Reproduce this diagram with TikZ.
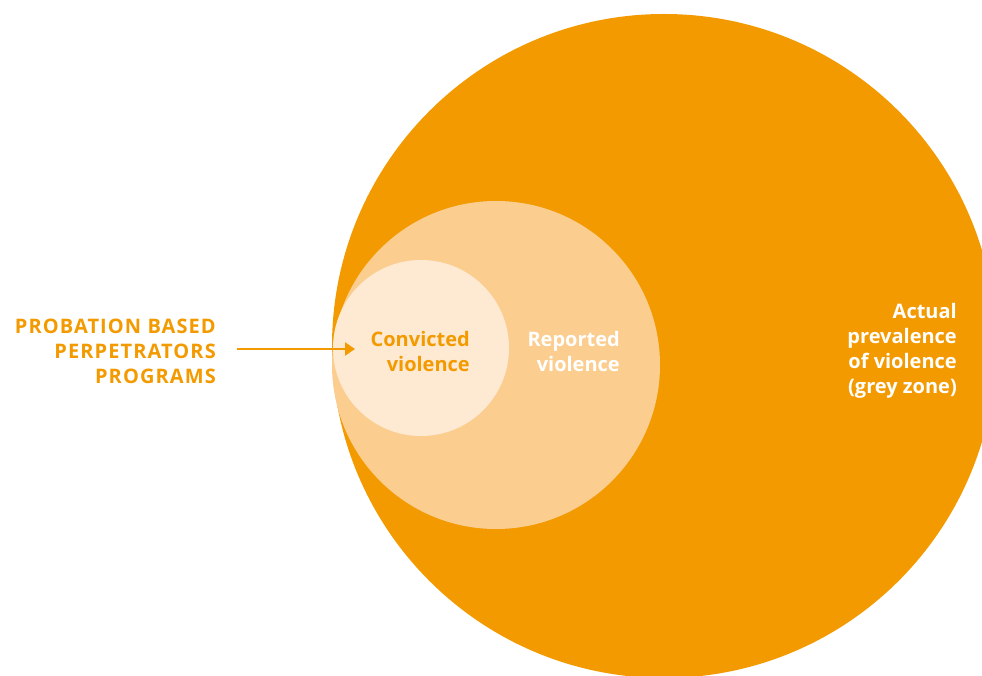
\documentclass[tikz,border=0pt]{standalone}
\usepackage{fontspec}
\setmainfont{Open Sans}
\newfontfamily\capsfont[LetterSpace=5.5]{Open Sans}
\usetikzlibrary{arrows.meta}

\definecolor{orangemain}{HTML}{F39A00}
\definecolor{orangemid}{HTML}{FBCD8F}
\definecolor{orangelight}{HTML}{FEEAD3}

\tikzset{
    lbl/.style={align=right,anchor=east,inner sep=0pt,font=\fontsize{20}{25}\selectfont\bfseries}
}

\begin{document}
\begin{tikzpicture}[x=1pt,y=1pt]
\useasboundingbox (0,0) rectangle (982,675);
\clip (0,0) rectangle (982,675);

% circles
\fill[orangemain] (664,329) circle (332);
\fill[orangemid] (496,310) circle (164);
\fill[orangelight] (421,327) circle (88);

% labels
\node[lbl,text=orangemain,font=\fontsize{20}{25}\selectfont\capsfont\bfseries] (probation) at (216,324) {PROBATION BASED\\PERPETRATORS\\PROGRAMS};
\node[lbl,text=orangemain] (convicted) at (470,323) {Convicted\\violence};
\node[lbl,text=white] (reported) at (620,323) {Reported\\violence};
\node[lbl,text=white] (actual) at (957,324) {Actual\\prevalence\\of violence\\(grey zone)};

\coordinate (tip) at (355,326);
\draw[-{Triangle[length=10pt,width=13pt]},line width=2.5pt,orangemain] (probation.east) ++(21,2) -- (tip);

\end{tikzpicture}
\end{document}
